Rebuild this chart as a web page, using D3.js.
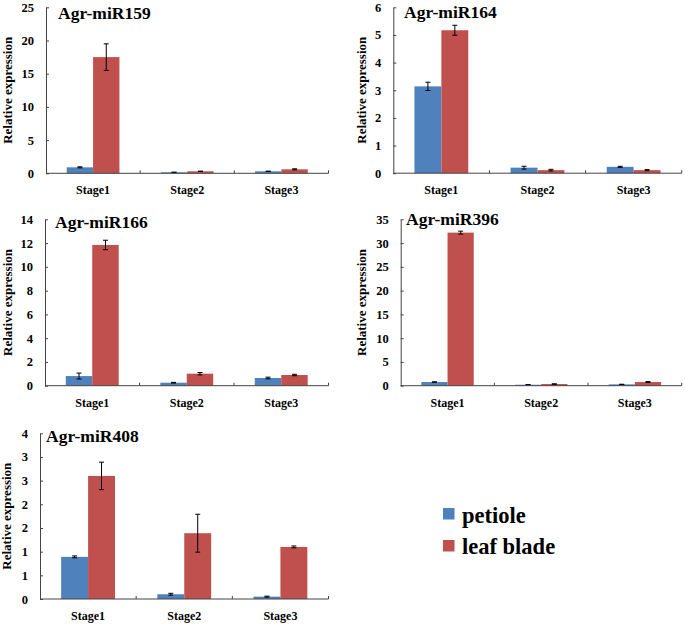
<!DOCTYPE html>
<html>
<head>
<meta charset="utf-8">
<script src="https://cdn.jsdelivr.net/npm/d3@7"></script>
<style>
  html, body { margin: 0; padding: 0; background: #fff; }
  svg { display: block; }
</style>
</head>
<body>
<svg id="chart" width="685" height="624" font-family="Liberation Serif" font-weight="bold"></svg>
<script>
// ---------- data ----------
const categories = ["Stage1", "Stage2", "Stage3"];
const seriesNames = ["petiole", "leaf blade"];
const seriesColors = ["#4F81BD", "#C0504D"];

const panelTitles = ["Agr-miR159", "Agr-miR164", "Agr-miR166", "Agr-miR396", "Agr-miR408"];

const mir159Petiole = [0.9, 0.15, 0.3];
const mir159PetioleErr = [0.08, 0.02, 0.03];
const mir159Leaf = [17.5, 0.3, 0.6];
const mir159LeafErr = [2.0, 0.03, 0.08];

const mir164Petiole = [3.14, 0.2, 0.23];
const mir164PetioleErr = [0.15, 0.05, 0.02];
const mir164Leaf = [5.17, 0.11, 0.11];
const mir164LeafErr = [0.18, 0.03, 0.02];

const mir166Petiole = [0.81, 0.25, 0.65];
const mir166PetioleErr = [0.25, 0.03, 0.07];
const mir166Leaf = [11.84, 1.01, 0.9];
const mir166LeafErr = [0.4, 0.1, 0.06];

const mir396Petiole = [0.77, 0.2, 0.28];
const mir396PetioleErr = [0.05, 0.02, 0.03];
const mir396Leaf = [32.2, 0.35, 0.77];
const mir396LeafErr = [0.3, 0.05, 0.1];

const mir408Petiole = [0.89, 0.1, 0.05];
const mir408PetioleErr = [0.02, 0.02, 0.01];
const mir408Leaf = [2.6, 1.39, 1.1];
const mir408LeafErr = [0.29, 0.4, 0.02];

const yMaxes = [25, 6, 14, 35, 3.5];
const yTickSteps = [5, 1, 2, 5, 0.5];

const panelValues = [
  [mir159Petiole, mir159Leaf],
  [mir164Petiole, mir164Leaf],
  [mir166Petiole, mir166Leaf],
  [mir396Petiole, mir396Leaf],
  [mir408Petiole, mir408Leaf]
];
const panelErrors = [
  [mir159PetioleErr, mir159LeafErr],
  [mir164PetioleErr, mir164LeafErr],
  [mir166PetioleErr, mir166LeafErr],
  [mir396PetioleErr, mir396LeafErr],
  [mir408PetioleErr, mir408LeafErr]
];

// ---------- layout ----------
const FONT = "'Liberation Serif', 'Times New Roman', Times, 'DejaVu Serif', serif";
const layout = [
  { x0: 46,    x1: 328.5, yTop: 7.3,   yBot: 173.3, labelX: 12,  titleX: 58,  titleY: 19 },
  { x0: 393.3, x1: 681.7, yTop: 7.3,   yBot: 173.2, labelX: 366, titleX: 404, titleY: 17.5 },
  { x0: 45,    x1: 328.5, yTop: 219.3, yBot: 385.7, labelX: 12,  titleX: 55,  titleY: 227.5 },
  { x0: 400.7, x1: 681.7, yTop: 219.3, yBot: 385.7, labelX: 366, titleX: 406, titleY: 225 },
  { x0: 40,    x1: 328.5, yTop: 433.3, yBot: 599,   labelX: 11,  titleX: 46,  titleY: 441.5 }
];

const svg = d3.select("#chart");

function styleText(sel, size) {
  return sel.attr("font-family", FONT).attr("font-weight", "bold")
    .attr("font-size", size).attr("fill", "#000")
    .style("font-family", FONT).style("font-weight", "bold");
}

layout.forEach((L, pi) => {
  const g = svg.append("g");
  const x = d3.scaleBand().domain(categories).range([L.x0, L.x1]).padding(0);
  const xs = d3.scaleBand().domain(seriesNames).range([0, x.bandwidth()])
    .paddingInner(0).paddingOuter(0.786);
  const y = d3.scaleLinear().domain([0, yMaxes[pi]]).range([L.yBot, L.yTop]);

  // bars
  seriesNames.forEach((s, si) => {
    const vals = panelValues[pi][si];
    const errs = panelErrors[pi][si];
    g.selectAll(null).data(categories).enter().append("rect")
      .attr("x", c => x(c) + xs(s))
      .attr("width", xs.bandwidth())
      .attr("y", (c, i) => y(vals[i]))
      .attr("height", (c, i) => L.yBot - y(vals[i]))
      .attr("fill", seriesColors[si]);
    const eg = g.selectAll(null).data(categories).enter().append("g")
      .attr("stroke", "#000").attr("stroke-width", 1);
    eg.append("line")
      .attr("x1", c => x(c) + xs(s) + xs.bandwidth() / 2)
      .attr("x2", c => x(c) + xs(s) + xs.bandwidth() / 2)
      .attr("y1", (c, i) => y(vals[i] + errs[i]))
      .attr("y2", (c, i) => y(Math.max(0, vals[i] - errs[i])));
    [1, -1].forEach(sign => {
      eg.append("line")
        .attr("x1", c => x(c) + xs(s) + xs.bandwidth() / 2 - 2.5)
        .attr("x2", c => x(c) + xs(s) + xs.bandwidth() / 2 + 2.5)
        .attr("y1", (c, i) => y(Math.max(0, vals[i] + sign * errs[i])))
        .attr("y2", (c, i) => y(Math.max(0, vals[i] + sign * errs[i])));
    });
  });

  // y axis
  const yAxis = d3.axisLeft(y)
    .tickValues(d3.range(0, yMaxes[pi] + 1e-9, yTickSteps[pi]))
    .tickSizeInner(-3).tickSizeOuter(0).tickPadding(12)
    .tickFormat(v => String(Math.round(v)));
  const ya = g.append("g").attr("transform", `translate(${L.x0},0)`).call(yAxis);
  ya.attr("font-family", FONT);
  ya.select(".domain").attr("stroke", "#444");
  ya.selectAll(".tick line").attr("stroke", "#444");
  styleText(ya.selectAll("text"), 12.5);

  // x axis
  const xa = g.append("g").attr("transform", `translate(0,${L.yBot})`);
  xa.append("line").attr("x1", L.x0).attr("x2", L.x1).attr("y1", 0).attr("y2", 0)
    .attr("stroke", "#444");
  const boundaries = categories.map(c => x(c) + x.bandwidth());
  xa.selectAll(null).data(boundaries).enter().append("line")
    .attr("x1", d => d).attr("x2", d => d).attr("y1", 0).attr("y2", -3)
    .attr("stroke", "#444");
  styleText(xa.selectAll(null).data(categories).enter().append("text")
    .attr("x", c => x(c) + x.bandwidth() / 2)
    .attr("y", 21)
    .attr("text-anchor", "middle")
    .text(c => c), 12);

  // y label
  styleText(g.append("text")
    .attr("transform", `translate(${L.labelX},${(L.yTop + L.yBot) / 2}) rotate(-90)`)
    .attr("text-anchor", "middle")
    .text("Relative expression"), 13);

  // title
  styleText(g.append("text")
    .attr("x", L.titleX).attr("y", L.titleY)
    .text(panelTitles[pi]), 17.5);
});

// legend
const legend = svg.append("g").attr("transform", "translate(443,508)");
seriesNames.forEach((s, i) => {
  legend.append("rect").attr("x", 0).attr("y", i * 32).attr("width", 11.5).attr("height", 11.5)
    .attr("fill", seriesColors[i]);
  styleText(legend.append("text").attr("x", 19).attr("y", i * 31 + 14.5).text(s), 22.5);
});
</script>
</body>
</html>
